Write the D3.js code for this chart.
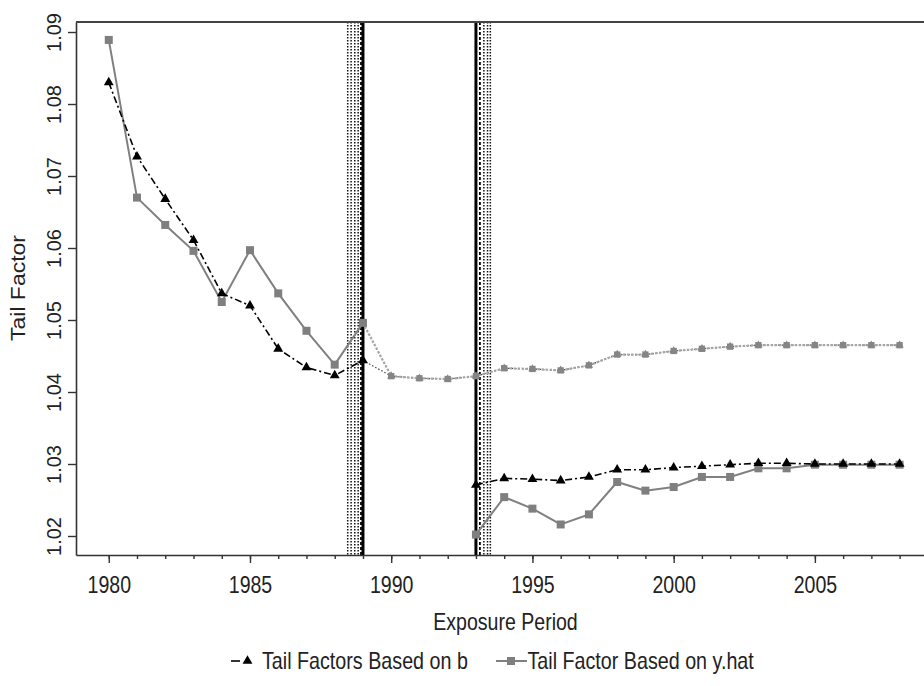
<!DOCTYPE html>
<html>
<head>
<meta charset="utf-8">
<script src="https://cdn.jsdelivr.net/npm/d3@7"></script>
<style>
  body { margin: 0; background: #fff; }
  text { font-family: "Liberation Sans", Arial, sans-serif; fill: #222; }
</style>
</head>
<body>
<div id="chart"></div>
<script>
// data
var yearsEarly = [1980, 1981, 1982, 1983, 1984, 1985, 1986, 1987, 1988, 1989];
var bEarly = [1.0830, 1.0727, 1.0668, 1.0611, 1.0537, 1.0520, 1.0460, 1.0434, 1.0423, 1.0444];
var yhatEarly = [1.0889, 1.0670, 1.0632, 1.0596, 1.0525, 1.0597, 1.0537, 1.0485, 1.0438, 1.0496];

var yearsMid = [1990, 1991, 1992, 1993, 1994, 1995, 1996, 1997, 1998, 1999,
                2000, 2001, 2002, 2003, 2004, 2005, 2006, 2007, 2008];
var fullFit = [1.0422, 1.0419, 1.0418, 1.0422, 1.0433, 1.0432, 1.0430, 1.0437, 1.0452, 1.0452,
               1.0457, 1.0460, 1.0463, 1.0465, 1.0465, 1.0465, 1.0465, 1.0465, 1.0465];

var yearsLate = [1993, 1994, 1995, 1996, 1997, 1998, 1999, 2000,
                 2001, 2002, 2003, 2004, 2005, 2006, 2007, 2008];
var bLate = [1.0271, 1.0280, 1.0279, 1.0277, 1.0282, 1.0292, 1.0292, 1.0295,
             1.0297, 1.0299, 1.0301, 1.0301, 1.0300, 1.0300, 1.0300, 1.0300];
var yhatLate = [1.0202, 1.0254, 1.0238, 1.0216, 1.0230, 1.0275, 1.0263, 1.0268,
                1.0282, 1.0282, 1.0294, 1.0294, 1.0299, 1.0299, 1.0299, 1.0299];

// break points and their interval lines
var breakYears = [1989, 1993];
var dashedYears = [1988.93, 1993.14];
var dottedYears = [1988.46, 1988.58, 1988.71, 1988.83, 1993.28, 1993.41, 1993.51];

var majorTicks = [1980, 1985, 1990, 1995, 2000, 2005];
var minorTicks = d3.range(1980, 2010);
var yTicks = [1.02, 1.03, 1.04, 1.05, 1.06, 1.07, 1.08, 1.09];

var legendLabels = ["Tail Factors Based on b", "Tail Factor Based on y.hat"];

// svg measurements
var svgWidth = 924;
var svgHeight = 686;
var margin = {top: 22, left: 76};
var width = 864;
var height = 533;

var svg = d3.select("#chart")
    .append("svg")
    .attr("width", svgWidth)
    .attr("height", svgHeight);

var chart = svg.append("g")
    .attr("transform", "translate(" + margin.left + "," + margin.top + ")");

var x = d3.scaleLinear().domain([1978.84, 2009.43]).range([0, width]);
var y = d3.scaleLinear().domain([1.01736, 1.09139]).range([height, 0]);

function pts(xs, ys) {
    return xs.map(function(d, i) { return [d, ys[i]]; });
}

var line = d3.line()
    .x(function(d) { return x(d[0]); })
    .y(function(d) { return y(d[1]); });

// vertical break lines
chart.selectAll(".dotv")
    .data(dottedYears)
    .enter()
    .append("line")
    .attr("x1", function(d) { return x(d); })
    .attr("x2", function(d) { return x(d); })
    .attr("y1", 0)
    .attr("y2", height)
    .attr("stroke", "#111")
    .attr("stroke-width", 1.5)
    .attr("stroke-dasharray", "1.5,1.5");

chart.selectAll(".dashv")
    .data(dashedYears)
    .enter()
    .append("line")
    .attr("x1", function(d) { return x(d); })
    .attr("x2", function(d) { return x(d); })
    .attr("y1", 0)
    .attr("y2", height)
    .attr("stroke", "#000")
    .attr("stroke-width", 1.8)
    .attr("stroke-dasharray", "3,2");

chart.selectAll(".breakv")
    .data(breakYears)
    .enter()
    .append("line")
    .attr("x1", function(d) { return x(d); })
    .attr("x2", function(d) { return x(d); })
    .attr("y1", 0)
    .attr("y2", height)
    .attr("stroke", "#000")
    .attr("stroke-width", 3);

// upper (full period fit) dotted lines
var lastB = [yearsEarly[yearsEarly.length - 1], bEarly[bEarly.length - 1]];
var lastY = [yearsEarly[yearsEarly.length - 1], yhatEarly[yhatEarly.length - 1]];

chart.append("path")
    .datum([lastB].concat(pts(yearsMid, fullFit)))
    .attr("d", line)
    .attr("fill", "none")
    .attr("stroke", "#444")
    .attr("stroke-width", 1.2)
    .attr("stroke-dasharray", "1.5,2");

chart.append("path")
    .datum([lastY].concat(pts(yearsMid, fullFit)))
    .attr("d", line)
    .attr("fill", "none")
    .attr("stroke", "#a6a6a6")
    .attr("stroke-width", 2.2)
    .attr("stroke-dasharray", "2.5,1.5");

chart.selectAll(".midtri")
    .data(pts(yearsMid, fullFit))
    .enter()
    .append("path")
    .attr("d", d3.symbol(d3.symbolTriangle).size(30))
    .attr("transform", function(d) { return "translate(" + x(d[0]) + "," + y(d[1]) + ")"; })
    .attr("fill", "#8a8a8a");

chart.selectAll(".midsq")
    .data(pts(yearsMid, fullFit))
    .enter()
    .append("path")
    .attr("d", d3.symbol(d3.symbolSquare).size(40))
    .attr("transform", function(d) { return "translate(" + x(d[0]) + "," + y(d[1]) + ")"; })
    .attr("fill", "#858585");

// y.hat series, grey solid with squares
[pts(yearsEarly, yhatEarly), pts(yearsLate, yhatLate)].forEach(function(seg) {
    chart.append("path")
        .datum(seg)
        .attr("d", line)
        .attr("fill", "none")
        .attr("stroke", "#808080")
        .attr("stroke-width", 2);
    chart.selectAll(null)
        .data(seg)
        .enter()
        .append("path")
        .attr("d", d3.symbol(d3.symbolSquare).size(64))
        .attr("transform", function(d) { return "translate(" + x(d[0]) + "," + y(d[1]) + ")"; })
        .attr("fill", "#7f7f7f");
});

// b series, black dash-dot with triangles
[pts(yearsEarly, bEarly), pts(yearsLate, bLate)].forEach(function(seg) {
    chart.append("path")
        .datum(seg)
        .attr("d", line)
        .attr("fill", "none")
        .attr("stroke", "#000")
        .attr("stroke-width", 1.6)
        .attr("stroke-dasharray", "7,3,2,3");
    chart.selectAll(null)
        .data(seg)
        .enter()
        .append("path")
        .attr("d", d3.symbol(d3.symbolTriangle).size(42))
        .attr("transform", function(d) { return "translate(" + x(d[0]) + "," + y(d[1]) + ")"; })
        .attr("fill", "#000");
});

// axes
var bottomMajor = d3.axisBottom(x)
    .tickValues(majorTicks)
    .tickFormat(d3.format("d"))
    .tickSize(8)
    .tickSizeOuter(0);
var bottomMinor = d3.axisBottom(x)
    .tickValues(minorTicks)
    .tickFormat("")
    .tickSize(4)
    .tickSizeOuter(0);

var gMinor = chart.append("g")
    .attr("transform", "translate(0," + height + ")")
    .call(bottomMinor);
gMinor.select(".domain").remove();

var gx = chart.append("g")
    .attr("transform", "translate(0," + height + ")")
    .call(bottomMajor);
gx.selectAll("text")
    .attr("y", 38)
    .attr("dy", null)
    .attr("font-size", "23px")
    .attr("transform", "scale(0.85,1)");

var leftAxis = d3.axisLeft(y)
    .tickValues(yTicks)
    .tickFormat(d3.format(".2f"))
    .tickSize(8)
    .tickSizeOuter(0);
var gy = chart.append("g").call(leftAxis);
gy.selectAll("text")
    .attr("x", null)
    .attr("dy", null)
    .attr("text-anchor", "middle")
    .attr("font-size", "20px")
    .attr("transform", "translate(-15,0) rotate(-90)");

[gx, gy, gMinor].forEach(function(g) {
    g.selectAll("line").attr("stroke", "#333").attr("stroke-width", 1.4);
    g.selectAll(".domain").attr("stroke", "#333").attr("stroke-width", 1.6);
    g.selectAll("text").attr("fill", "#222").attr("font-family", null);
});

// top border
chart.append("line")
    .attr("x1", 0)
    .attr("x2", width)
    .attr("y1", 0)
    .attr("y2", 0)
    .attr("stroke", "#444")
    .attr("stroke-width", 2);

// axis labels
svg.append("text")
    .attr("transform", "translate(505.5,630) scale(0.85,1)")
    .attr("text-anchor", "middle")
    .attr("font-size", "23px")
    .text("Exposure Period");

svg.append("text")
    .attr("transform", "translate(25,288) rotate(-90) scale(1,0.85)")
    .attr("text-anchor", "middle")
    .attr("font-size", "23px")
    .text("Tail Factor");

// legend
var legendY = 661;
svg.append("line")
    .attr("x1", 231).attr("x2", 240)
    .attr("y1", legendY).attr("y2", legendY)
    .attr("stroke", "#000")
    .attr("stroke-width", 1.6);
svg.append("path")
    .attr("d", d3.symbol(d3.symbolTriangle).size(42))
    .attr("transform", "translate(247.5," + legendY + ")")
    .attr("fill", "#000");
svg.append("text")
    .attr("transform", "translate(262,669) scale(0.857,1)")
    .attr("font-size", "23px")
    .text(legendLabels[0]);

svg.append("line")
    .attr("x1", 496).attr("x2", 527)
    .attr("y1", legendY).attr("y2", legendY)
    .attr("stroke", "#808080")
    .attr("stroke-width", 2);
svg.append("path")
    .attr("d", d3.symbol(d3.symbolSquare).size(64))
    .attr("transform", "translate(511," + legendY + ")")
    .attr("fill", "#7f7f7f");
svg.append("text")
    .attr("transform", "translate(527.5,669) scale(0.857,1)")
    .attr("font-size", "23px")
    .text(legendLabels[1]);
</script>
</body>
</html>
